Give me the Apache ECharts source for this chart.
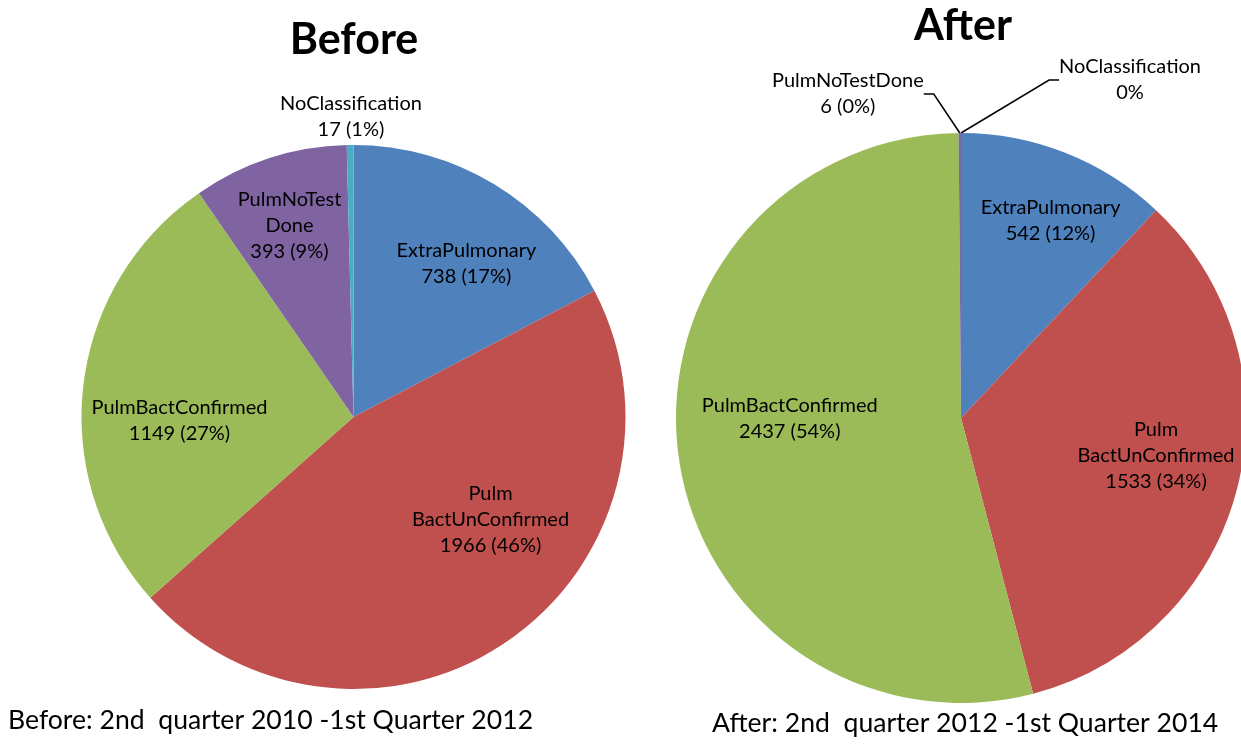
<!DOCTYPE html>
<html><head><meta charset="utf-8">
<script src="https://cdn.jsdelivr.net/npm/echarts@6/dist/echarts.min.js"></script>
<style>html,body{margin:0;padding:0;background:#fff}#c{width:1241px;height:751px}</style>
</head><body><div id="c"></div>
<script>
const categories = ['ExtraPulmonary', 'PulmBactUnConfirmed', 'PulmBactConfirmed', 'PulmNoTestDone', 'NoClassification'];
const beforeLabels = ['ExtraPulmonary', 'Pulm\nBactUnConfirmed', 'PulmBactConfirmed', 'PulmNoTest\nDone', 'NoClassification'];
const afterLabels = ['ExtraPulmonary', 'Pulm\nBactUnConfirmed', 'PulmBactConfirmed', 'PulmNoTestDone', 'NoClassification'];
const beforeValues = [738, 1966, 1149, 393, 17];
const afterValues = [542, 1533, 2437, 6, 0];
const titles = ['Before', 'After'];
const footnotes = ['Before: 2nd  quarter 2010 -1st Quarter 2012', 'After: 2nd  quarter 2012 -1st Quarter 2014'];

const colors = ['#4F81BD', '#C0504D', '#9BBB59', '#8064A2', '#4BACC6'];
const FONT = 'Lato';

// label offsets relative to library default label position
const beforeOffsets = [[41, -35], [58, -12], [-36, 20], [-21, -59], [87, -13]];
const afterOffsets = [[36, -62], [54, 2], [-27, -19], [-21, -24], [255, -38]];
const outsideBefore = [false, false, false, false, true];
const outsideAfter = [false, false, false, true, true];

function layoutFn(offsets) {
  return function (p) {
    const o = offsets[p.dataIndex];
    const r = p.labelRect;
    return { x: r.x + r.width / 2 + o[0], y: r.y + r.height / 2 + o[1], align: 'center', verticalAlign: 'middle' };
  };
}

function buildData(values, outside, showLines) {
  return values.map((v, i) => ({
    name: categories[i], value: v,
    itemStyle: { color: colors[i] },
    label: { position: outside[i] ? 'outside' : 'inside' },
    labelLine: { show: outside[i] && showLines }
  }));
}

function pieSeries(values, labels, outside, offsets, center, radius, showLines) {
  return {
    type: 'pie', center: center, radius: radius, startAngle: 90, clockwise: true,
    avoidLabelOverlap: false, animation: false, silent: true,
    minShowLabelAngle: 0, percentPrecision: 0,
    label: {
      show: true, color: '#000', fontFamily: FONT, fontSize: 20, lineHeight: 26, align: 'center',
      formatter: p => labels[p.dataIndex] + '\n' + (p.value === 0 ? '' : p.value + ' (') + p.percent + '%' + (p.value === 0 ? '' : ')')
    },
    labelLine: { show: false, length: 15, length2: 10, smooth: false, lineStyle: { color: '#000', width: 1.5 } },
    labelLayout: layoutFn(offsets),
    itemStyle: { borderWidth: 0 },
    data: buildData(values, outside, showLines)
  };
}

const chart = echarts.init(document.getElementById('c'), null, { renderer: 'canvas' });
chart.setOption({
  backgroundColor: '#fff',
  animation: false,
  title: [
    { text: titles[0], left: 349, top: 14, textAlign: 'center', textStyle: { fontFamily: FONT, fontWeight: 'bold', fontSize: 43, color: '#000' } },
    { text: titles[1], left: 958, top: 0, textAlign: 'center', textStyle: { fontFamily: FONT, fontWeight: 'bold', fontSize: 43, color: '#000' } },
    { text: footnotes[0], left: 8, top: 707, padding: 0, textStyle: { fontFamily: FONT, fontWeight: 'normal', fontSize: 26.6, color: '#000' } },
    { text: footnotes[1], left: 712, top: 710, padding: 0, textStyle: { fontFamily: FONT, fontWeight: 'normal', fontSize: 26.6, color: '#000' } }
  ],
  series: [
    pieSeries(beforeValues, beforeLabels, outsideBefore, beforeOffsets, [353.5, 417], 272, false),
    pieSeries(afterValues, afterLabels, outsideAfter, afterOffsets, [961, 418], 285, true)
  ]
});
</script>
</body></html>
